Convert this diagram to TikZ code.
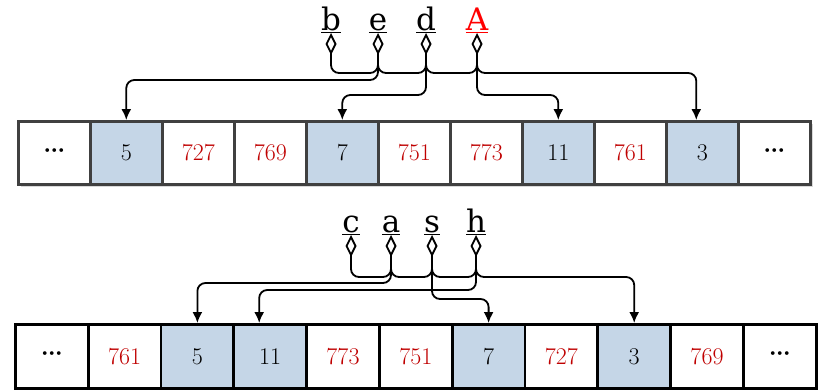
\documentclass[tikz,border=0pt]{standalone}
\usepackage{fontspec}
\usepackage{tikz}
\usetikzlibrary{arrows.meta,shapes,shadows}

\newfontfamily\keyfont{DejaVu Serif}
\definecolor{keyblue}{RGB}{197,214,231}
\definecolor{valred}{RGB}{192,0,0}
\definecolor{rim}{RGB}{64,64,64}
\newcommand{\more}{\raisebox{-3pt}{\keyfont\fontsize{20}{20}\selectfont\bfseries ···}}

\begin{document}
\begin{tikzpicture}[
  x=1pt, y=-1pt,
  letter/.style={
    anchor=south,
    inner sep=0pt,
    font=\keyfont\fontsize{31}{31}\selectfont
  },
  slot/.style={
    rectangle,
    anchor=north west,
    inner sep=0pt,
    fill=white,
    font=\fontsize{24}{24}\selectfont
  },
  topslot/.style={
    slot,
    draw=rim,
    line width=2.6pt,
    minimum width=72pt,
    minimum height=63pt,
    drop shadow={shadow xshift=2.5pt, shadow yshift=-2.5pt, fill=black!15, opacity=1}
  },
  botslot/.style={
    slot,
    draw=black,
    line width=2.8pt,
    minimum width=72.8pt,
    minimum height=64pt
  },
  plain/.style={},
  hit/.style={fill=keyblue},
  miss/.style={text=valred},
  link/.style={line width=1.8pt, rounded corners=8pt},
  hook/.style={link, {Diamond[open,length=22pt,width=11pt]}-{Latex[length=11pt,width=10pt]}},
  tail/.style={link, {Diamond[open,length=22pt,width=11pt]}-}
]

\useasboundingbox (0,0) rectangle (819,389);

% --- UPPER TABLE ---------------------------------------------------
\foreach \txt/\kind [count=\i] in {\more/plain, 5/hit, 727/miss, 769/miss, 7/hit,
    751/miss, 773/miss, 11/hit, 761/miss, 3/hit, \more/plain}
  \node[topslot, \kind] (t\i) at ({17+72*(\i-1)},120) {\txt};

% --- UPPER KEYS ----------------------------------------------------
\node[letter] (b) at (331,33) {\underline{b}};
\node[letter] (e) at (378,33) {\underline{e}};
\node[letter] (d) at (426,33) {\underline{d}};
\node[letter, text=red] (A) at (477,33) {\underline{A}};

\coordinate (busT) at (0,73);
\foreach \n in {b,e,d,A}
  \coordinate (\n-bus) at (\n |- busT);
\coordinate (in3) at ([xshift=-6pt]t10.north);

% --- UPPER LINKS ---------------------------------------------------
\draw[tail] (b.south) -- (b-bus) -- (e-bus) -- ([yshift=10pt]e-bus);
\draw[link] ([yshift=10pt]e-bus) -- (e-bus) -- (d-bus) -- ([yshift=10pt]d-bus);
\draw[link] ([yshift=10pt]d-bus) -- (d-bus) -- (A-bus) -- ([yshift=10pt]A-bus);
\draw[link, -{Latex[length=11pt,width=10pt]}] ([yshift=10pt]A-bus) -- (A-bus) -| (in3);
\draw[hook] (e.south) -- ++(0,47) -| (t2.north);
\draw[hook] (d.south) -- ++(0,62) -| (t5.north);
\draw[hook] (A.south) -- ++(0,62) -| (t8.north);

% --- LOWER TABLE ---------------------------------------------------
\foreach \txt/\kind [count=\i] in {\more/plain, 761/miss, 5/hit, 11/hit, 773/miss,
    751/miss, 7/hit, 727/miss, 3/hit, 769/miss, \more/plain}
  \node[botslot, \kind] (u\i) at ({14+72.8*(\i-1)},323) {\txt};

% --- LOWER KEYS ----------------------------------------------------
\node[letter] (c) at (351,235) {\underline{c}};
\node[letter] (a) at (391,235) {\underline{a}};
\node[letter] (s) at (432,235) {\underline{s}};
\node[letter] (h) at (476,235) {\underline{h}};

\coordinate (busB) at (0,277);
\foreach \n in {c,a,s,h}
  \coordinate (\n-bus) at (\n |- busB);
\coordinate (in11) at ([xshift=-11pt]u4.north);

% --- LOWER LINKS ---------------------------------------------------
\draw[tail] (c.south) -- (c-bus) -- (a-bus) -- ([yshift=10pt]a-bus);
\draw[link] ([yshift=10pt]a-bus) -- (a-bus) -- (s-bus) -- ([yshift=10pt]s-bus);
\draw[link] ([yshift=10pt]s-bus) -- (s-bus) -- (h-bus) -- ([yshift=10pt]h-bus);
\draw[link, -{Latex[length=11pt,width=10pt]}] ([yshift=10pt]h-bus) -- (h-bus) -| (u9.north);
\draw[hook] (a.south) -- ++(0,48) -| (u3.north);
\draw[hook] (h.south) -- ++(0,55) -| (in11);
\draw[hook] (s.south) -- ++(0,64) -| (u7.north);

\end{tikzpicture}
\end{document}
